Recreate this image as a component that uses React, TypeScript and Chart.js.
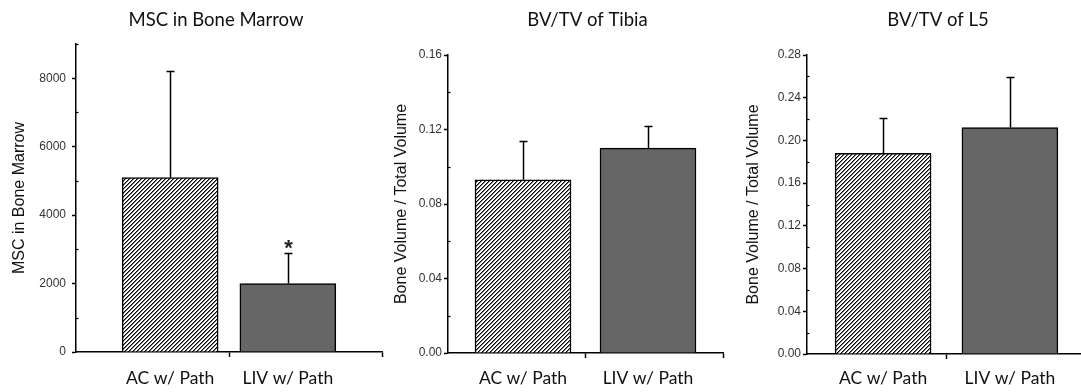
import React, { useEffect, useRef } from 'react';
import { Chart, registerables } from 'chart.js';

Chart.register(...registerables);

// ---------- data ----------
const groups = ['AC w/ Path', 'LIV w/ Path'];

const mscTitle = 'MSC in Bone Marrow';
const mscAxisTitle = 'MSC in Bone Marrow';
const mscMeans = [5100, 2000];
const mscErrors = [3100, 900];
const mscMarks = ['', '*'];
const mscTicks = [0, 2000, 4000, 6000, 8000];
const mscMax = 9000;

const tibiaTitle = 'BV/TV of Tibia';
const tibiaMeans = [0.093, 0.11];
const tibiaErrors = [0.021, 0.012];
const tibiaMarks = ['', ''];
const tibiaTicks = [0, 0.04, 0.08, 0.12, 0.16];
const tibiaMax = 0.16;

const l5Title = 'BV/TV of L5';
const l5Means = [0.188, 0.212];
const l5Errors = [0.033, 0.047];
const l5Marks = ['', ''];
const l5Ticks = [0, 0.04, 0.08, 0.12, 0.16, 0.2, 0.24, 0.28];
const l5Max = 0.28;

const bvAxisTitle = 'Bone Volume / Total Volume';

// ---------- layout / style ----------
type PanelCfg = {
  title: string;
  axisTitle: string;
  means: number[];
  errors: number[];
  marks: string[];
  ticks: number[];
  yMax: number;
  decimals: number;
  left: number;
  width: number;
  yWidth: number;
  padRight: number;
  xMin: number;
  xMax: number;
  titleGap: number;
  xHeight: number;
  xPad: number;
  tickPad: number;
};

const panels: PanelCfg[] = [
  {
    title: mscTitle, axisTitle: mscAxisTitle, means: mscMeans, errors: mscErrors, marks: mscMarks,
    ticks: mscTicks, yMax: mscMax, decimals: 0,
    left: 0, width: 432, yWidth: 76, padRight: 50, xMin: 0.2, xMax: 2.8,
    titleGap: 12.8, xHeight: 40, xPad: 11, tickPad: 6,
  },
  {
    title: tibiaTitle, axisTitle: bvAxisTitle, means: tibiaMeans, errors: tibiaErrors, marks: tibiaMarks,
    ticks: tibiaTicks, yMax: tibiaMax, decimals: 2,
    left: 382, width: 411, yWidth: 66, padRight: 70, xMin: 0.4, xMax: 2.6,
    titleGap: 23.8, xHeight: 39, xPad: 10, tickPad: 2,
  },
  {
    title: l5Title, axisTitle: bvAxisTitle, means: l5Means, errors: l5Errors, marks: l5Marks,
    ticks: l5Ticks, yMax: l5Max, decimals: 2,
    left: 734, width: 408, yWidth: 73, padRight: 56, xMin: 0.4, xMax: 2.6,
    titleGap: 23.8, xHeight: 38, xPad: 9, tickPad: 2,
  },
];

function makeHatch(): CanvasPattern | string {
  const n = 4;
  const c = document.createElement('canvas');
  c.width = n;
  c.height = n;
  const g = c.getContext('2d');
  if (!g) return '#999';
  const img = g.createImageData(n, n);
  for (let yy = 0; yy < n; yy++) {
    for (let xx = 0; xx < n; xx++) {
      const k = (xx + yy) % n;
      const v = k === n - 1 ? 0 : k === 0 ? 120 : 255;
      const o = (yy * n + xx) * 4;
      img.data[o] = v;
      img.data[o + 1] = v;
      img.data[o + 2] = v;
      img.data[o + 3] = 255;
    }
  }
  g.putImageData(img, 0, 0);
  return g.createPattern(c, 'repeat') || '#999';
}

function buildYTicks(majors: number[], max: number) {
  const out: any[] = [];
  for (let i = 0; i < majors.length; i++) {
    out.push({ value: majors[i], minor: false });
    if (i < majors.length - 1) {
      out.push({ value: (majors[i] + majors[i + 1]) / 2, minor: true });
    } else if (majors.length > 1) {
      const half = (majors[i] - majors[i - 1]) / 2;
      if (majors[i] + half <= max + 1e-9) out.push({ value: majors[i] + half, minor: true });
    }
  }
  return out;
}

const errorBarPlugin = {
  id: 'errorBars',
  afterDatasetsDraw(chart: any, _args: any, opts: any) {
    const { ctx } = chart;
    const y = chart.scales.y;
    const meta = chart.getDatasetMeta(0);
    const data = chart.data.datasets[0].data as any[];
    const errs: number[] = opts.errors || [];
    const marks: string[] = opts.marks || [];
    ctx.save();
    ctx.strokeStyle = '#000';
    ctx.lineWidth = 1.5;
    meta.data.forEach((bar: any, i: number) => {
      const v = data[i].y;
      const px = Math.round(bar.x) + 0.5;
      const yBase = y.getPixelForValue(v);
      const yTop = Math.round(y.getPixelForValue(v + errs[i])) + 0.5;
      ctx.beginPath();
      ctx.moveTo(px, yBase);
      ctx.lineTo(px, yTop);
      ctx.moveTo(px - 4, yTop);
      ctx.lineTo(px + 4, yTop);
      ctx.stroke();
      if (marks[i]) {
        ctx.fillStyle = '#222';
        ctx.font = 'bold 22px "Liberation Sans", Arial, sans-serif';
        ctx.textAlign = 'center';
        ctx.textBaseline = 'alphabetic';
        ctx.fillText(marks[i], px, yTop + 1);
      }
    });
    // minor inward ticks on y axis
    ctx.lineWidth = 1.2;
    const ax = chart.chartArea.left;
    y.ticks.forEach((t: any, i: number) => {
      if (t.minor) {
        const py = Math.round(y.getPixelForTick(i)) + 0.5;
        ctx.beginPath();
        ctx.moveTo(ax, py);
        ctx.lineTo(ax + 2.5, py);
        ctx.stroke();
      }
    });
    ctx.restore();
  },
};

function Panel({ cfg }: { cfg: PanelCfg }) {
  const ref = useRef<HTMLCanvasElement | null>(null);
  useEffect(() => {
    if (!ref.current) return;
    const hatch = makeHatch();
    const positions = groups.map((_, i) => i + 1);
    const chart = new Chart(ref.current, {
      type: 'bar',
      data: {
        datasets: [
          {
            data: cfg.means.map((m, i) => ({ x: positions[i], y: m })) as any,
            backgroundColor: [hatch, '#666666'] as any,
            borderColor: '#000000',
            borderWidth: 1.5,
            barThickness: 96,
          },
        ],
      },
      options: {
        responsive: false,
        animation: false,
        events: [],
        layout: { padding: 0 },
        plugins: {
          legend: { display: false },
          tooltip: { enabled: false },
          title: {
            display: true,
            text: cfg.title,
            color: '#111',
            font: { family: 'Lato', size: 18.5, weight: 'normal' },
            padding: { top: 9, bottom: cfg.titleGap },
          },
          errorBars: { errors: cfg.errors, marks: cfg.marks },
        } as any,
        scales: {
          x: {
            type: 'linear',
            offset: false,
            min: cfg.xMin,
            max: cfg.xMax,
            afterBuildTicks: (s: any) => {
              s.ticks = [positions[0], (positions[0] + positions[1]) / 2, positions[1], cfg.xMax].map((v) => ({ value: v }));
            },
            afterFit: (s: any) => {
              s.height = cfg.xHeight;
            },
            grid: {
              offset: false,
              drawOnChartArea: false,
              drawTicks: true,
              tickLength: 5,
              tickWidth: 1.5,
              tickColor: (c: any) => (c.tick && positions.includes(c.tick.value) ? 'transparent' : '#000'),
            },
            border: { color: '#000', width: 1.5 },
            ticks: {
              autoSkip: false,
              maxRotation: 0,
              minRotation: 0,
              padding: cfg.xPad,
              color: '#111',
              font: { family: 'Lato', size: 17.5 },
              callback: (v: any) => {
                const i = positions.indexOf(Number(v));
                return i >= 0 ? groups[i] : '';
              },
            },
          },
          y: {
            type: 'linear',
            position: 'left',
            min: 0,
            max: cfg.yMax,
            afterBuildTicks: (s: any) => {
              s.ticks = buildYTicks(cfg.ticks, cfg.yMax);
            },
            afterFit: (s: any) => {
              s.width = cfg.yWidth;
            },
            grid: {
              drawOnChartArea: false,
              drawTicks: true,
              tickLength: 4,
              tickWidth: 1.5,
              tickColor: (c: any) => (c.tick && c.tick.minor ? 'transparent' : '#000'),
            },
            border: { color: '#000', width: 1.5 },
            title: {
              display: true,
              text: cfg.axisTitle,
              color: '#111',
              font: { family: 'Liberation Sans', size: 16 },
              padding: { top: 9.5, bottom: 0 },
            },
            ticks: {
              autoSkip: false,
              padding: cfg.tickPad,
              color: '#333',
              font: { family: 'Liberation Sans', size: 12 },
              callback: (v: any, i: number, ticks: any[]) =>
                ticks[i] && ticks[i].minor ? '' : Number(v).toFixed(cfg.decimals),
            },
          },
          // empty right-hand spacer so the panel title centres like the original
          spacer: {
            type: 'linear',
            position: 'right',
            display: true,
            grid: { display: false },
            border: { display: false },
            ticks: { display: false },
            afterFit: (s: any) => {
              s.width = cfg.padRight;
            },
          },
        },
      } as any,
      plugins: [errorBarPlugin as any],
    });
    return () => chart.destroy();
  }, [cfg]);
  return (
    <canvas
      ref={ref}
      width={cfg.width}
      height={392}
      style={{ position: 'absolute', left: cfg.left, top: 0, width: cfg.width, height: 392 }}
    />
  );
}

export default function App() {
  return (
    <div
      style={{
        position: 'absolute',
        left: 0,
        top: 0,
        width: 1081,
        height: 392,
        overflow: 'hidden',
        background: '#ffffff',
      }}
    >
      {panels.map((p, i) => (
        <Panel key={i} cfg={p} />
      ))}
    </div>
  );
}
